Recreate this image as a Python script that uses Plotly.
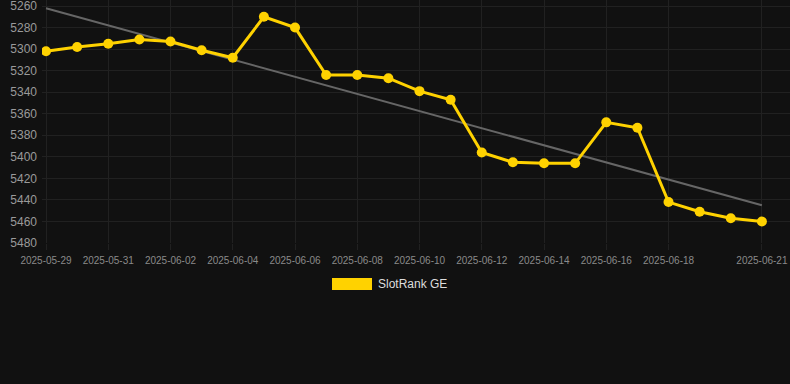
import plotly.graph_objects as go

dates = ["2025-05-29", "2025-05-30", "2025-05-31", "2025-06-01", "2025-06-02", "2025-06-03",
         "2025-06-04", "2025-06-05", "2025-06-06", "2025-06-07", "2025-06-08", "2025-06-09",
         "2025-06-10", "2025-06-11", "2025-06-12", "2025-06-13", "2025-06-14", "2025-06-15",
         "2025-06-16", "2025-06-17", "2025-06-18", "2025-06-19", "2025-06-20", "2025-06-21"]
ranks = [5302, 5298, 5295, 5291, 5293, 5301, 5308, 5270, 5280, 5324, 5324, 5327,
         5339, 5347, 5396, 5405, 5406, 5406, 5368, 5373, 5442, 5451, 5457, 5460]
trend_dates = ["2025-05-29", "2025-06-21"]
trend_vals = [5262, 5445]
xtick_vals = ["2025-05-29", "2025-05-31", "2025-06-02", "2025-06-04", "2025-06-06", "2025-06-08",
              "2025-06-10", "2025-06-12", "2025-06-14", "2025-06-16", "2025-06-18", "2025-06-21"]
ytick_vals = [5260, 5280, 5300, 5320, 5340, 5360, 5380, 5400, 5420, 5440, 5460, 5480]
series_name = "SlotRank GE"

gold = "#FFD200"
grid = "#212121"

fig = go.Figure()
fig.add_trace(go.Scatter(x=trend_dates, y=trend_vals, mode="lines",
                         line=dict(color="#666666", width=2), showlegend=False, hoverinfo="skip"))
fig.add_trace(go.Scatter(x=dates, y=ranks, mode="lines+markers", name=series_name,
                         line=dict(color=gold, width=3),
                         marker=dict(color=gold, size=10), showlegend=False))

fig.update_layout(
    width=790, height=384,
    margin=dict(l=42, r=0, t=0, b=141),
    paper_bgcolor="#111111", plot_bgcolor="#111111",
    font=dict(family="Liberation Sans, Arial, sans-serif", color="#999999"),
    xaxis=dict(type="date", range=["2025-05-28 20:55", "2025-06-21 21:40"],
               tickvals=xtick_vals, ticktext=xtick_vals,
               tickfont=dict(size=10, color="#8a8a8a"),
               showgrid=True, gridcolor=grid, gridwidth=1, zeroline=False,
               ticks="outside", ticklen=6, tickcolor=grid, showline=False,
               ticklabelstandoff=2, ticklabeloverflow="allow"),
    yaxis=dict(range=[5480, 5254.4], tickvals=ytick_vals,
               tickfont=dict(size=12, color="#9a9a9a"),
               showgrid=True, gridcolor=grid, gridwidth=1, zeroline=False,
               ticks="", showline=False, ticklabelstandoff=4, ticklabeloverflow="allow"),
    shapes=[dict(type="rect", xref="paper", yref="paper",
                 x0=(332 - 42) / 748, x1=(372 - 42) / 748,
                 y0=-(290 - 243) / 243, y1=-(278 - 243) / 243,
                 fillcolor=gold, line=dict(width=0))],
    annotations=[dict(text=series_name, xref="paper", yref="paper",
                      x=(376 - 42) / 748, y=-(284 - 243) / 243,
                      xanchor="left", yanchor="middle", showarrow=False,
                      font=dict(size=12, color="#dddddd"))],
)

fig.write_html("out.html", config={"displayModeBar": False},
               post_script="document.body.style.margin='0';document.body.style.background='#111111';")
